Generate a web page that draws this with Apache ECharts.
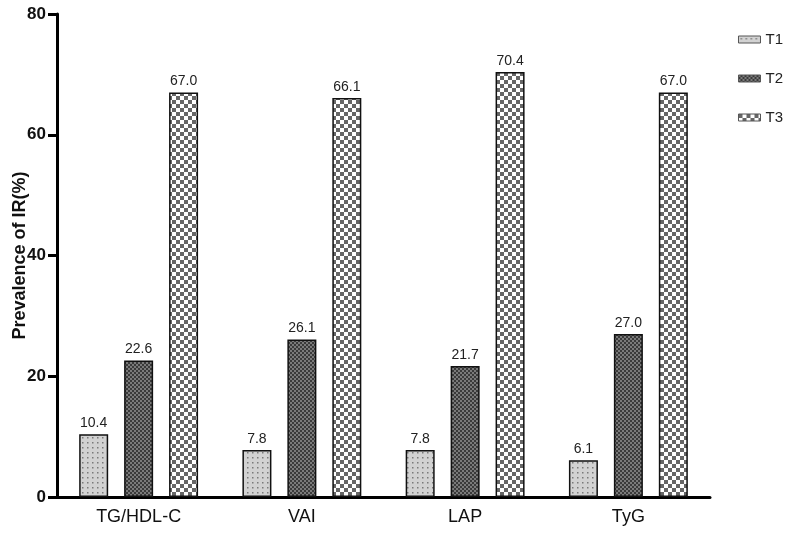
<!DOCTYPE html>
<html><head><meta charset="utf-8">
<script src="https://cdn.jsdelivr.net/npm/echarts@6/dist/echarts.min.js"></script>
<style>html,body{margin:0;padding:0;background:#fff}#c{width:796px;height:537px}</style>
</head><body><div id="c"></div>
<script>
var categories = ['TG/HDL-C', 'VAI', 'LAP', 'TyG'];
var seriesNames = ['T1', 'T2', 'T3'];
var t1 = [10.4, 7.8, 7.8, 6.1];
var t2 = [22.6, 26.1, 21.7, 27.0];
var t3 = [67.0, 66.1, 70.4, 67.0];
var yTicks = [0, 20, 40, 60, 80];

function pat(kind) {
  var c = document.createElement('canvas');
  var ctx = c.getContext('2d');
  if (kind === 1) {
    c.width = 5; c.height = 5;
    ctx.fillStyle = '#d2d2d2'; ctx.fillRect(0, 0, 5, 5);
    ctx.fillStyle = '#7a7a7a'; ctx.fillRect(2, 2, 1.5, 1.5);
  } else if (kind === 2) {
    c.width = 4; c.height = 4;
    ctx.fillStyle = '#262626'; ctx.fillRect(0, 0, 4, 4);
    ctx.fillStyle = '#7a7a7a'; ctx.fillRect(0, 0, 2, 2); ctx.fillRect(2, 2, 2, 2);
    ctx.fillStyle = '#3a3a3a'; ctx.fillRect(2, 0, 2, 2); ctx.fillRect(0, 2, 2, 2);
  } else {
    c.width = 8; c.height = 8;
    ctx.fillStyle = '#ffffff'; ctx.fillRect(0, 0, 8, 8);
    ctx.fillStyle = '#666666'; ctx.fillRect(0, 0, 4, 4); ctx.fillRect(4, 4, 4, 4);
  }
  return { image: c, repeat: 'repeat' };
}

var datas = [t1, t2, t3];
var chart = echarts.init(document.getElementById('c'));
var series = seriesNames.map(function (n, i) {
  return {
    name: n, type: 'bar', data: datas[i], barWidth: 29, barGap: '55%',
    itemStyle: { color: pat(i + 1), borderColor: '#111', borderWidth: 1.5 },
    label: { show: true, position: 'top', distance: 4, color: '#222', fontSize: 14,
      fontFamily: 'Liberation Sans', formatter: function (p) { return p.value.toFixed(1); } }
  };
});
chart.setOption({
  animation: false,
  backgroundColor: '#fff',
  grid: { left: 57, right: 86, top: 14, bottom: 40, outerBoundsMode: 'none', containLabel: false },
  legend: {
    orient: 'vertical', right: 8, top: 27, itemGap: 24, itemWidth: 22, itemHeight: 7,
    icon: 'rect',
    data: seriesNames,
    textStyle: { fontSize: 15, color: '#222', fontFamily: 'Liberation Sans' },
    itemStyle: { borderColor: '#555', borderWidth: 1 }
  },
  xAxis: {
    type: 'category', data: categories,
    axisLine: { lineStyle: { color: '#000', width: 3 } },
    axisTick: { show: false },
    axisLabel: { fontSize: 18, color: '#111', margin: 11, fontFamily: 'Liberation Sans' }
  },
  yAxis: {
    type: 'value', min: 0, max: 80, interval: 20,
    name: 'Prevalence of IR(%)', nameLocation: 'middle', nameGap: 28, nameMoveOverlap: false,
    nameTextStyle: { fontSize: 18, fontWeight: 'bold', color: '#111', fontFamily: 'Liberation Sans' },
    axisLine: { show: true, lineStyle: { color: '#000', width: 3 } },
    axisTick: { show: true, inside: false, length: 9, lineStyle: { color: '#000', width: 3 } },
    axisLabel: { fontSize: 17, fontWeight: 'bold', color: '#111', margin: 11, fontFamily: 'Liberation Sans',
      formatter: function (v) { return yTicks.indexOf(v) >= 0 ? String(v) : ''; } },
    splitLine: { show: false }
  },
  series: series
});
</script></body></html>
